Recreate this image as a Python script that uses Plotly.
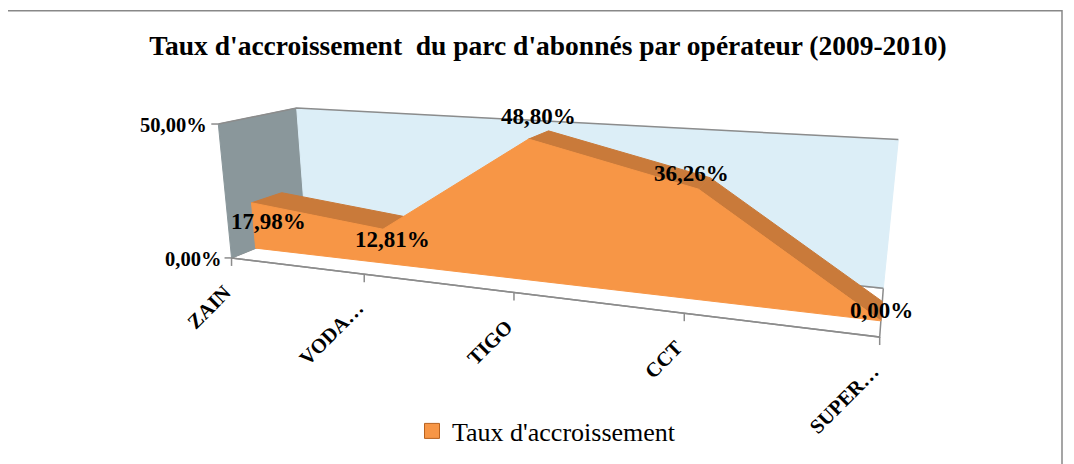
import numpy as np
import plotly.graph_objects as go

categories = ["ZAIN", "VODA…", "TIGO", "CCT", "SUPER…"]
values = [17.98, 12.81, 48.80, 36.26, 0.00]
value_ticks = [0, 50]
value_tick_labels = ["0,00%", "50,00%"]
series_name = "Taux d'accroissement"
chart_title = "Taux d'accroissement  du parc d'abonnés par opérateur (2009-2010)"

W, H = 1074, 464          # window
OX, OY = 8, 8             # page body margin
FW, FH = W - OX, H - OY   # figure size
VMAX = 50.0

# Perspective camera (3x4) mapping (category index, value %, depth 0..1) -> window pixels
CAMERA = np.array([
    [111.954, -0.436476, 111.987, 231.544],
    [0.589039, -2.7757, -1.98113, 257.933],
    [-0.056929, -0.000785653, 0.123619, 1.0],
])
D1, D2 = 0.3, 0.7         # series depth band


def proj(X, V, D):
    h = CAMERA @ np.array([X, V, D, 1.0])
    return h[0] / h[2], h[1] / h[2]


FRONT = "#F79646"
TOP = "#C97A3A"
SIDE = "#8A979B"
BACK = "#DCEEF7"
EDGE = "#8C8C8C"
SERIF = "Liberation Serif"

fig = go.Figure()


def add_poly(pts, fill, line_color=None, lw=1.0):
    xy = [proj(*p) for p in pts]
    xs = [q[0] for q in xy] + [xy[0][0]]
    ys = [q[1] for q in xy] + [xy[0][1]]
    fig.add_trace(go.Scatter(x=xs, y=ys, mode="lines", fill="toself", fillcolor=fill,
                             line=dict(color=line_color or fill, width=lw),
                             hoverinfo="skip", showlegend=False))


def add_line(pts, color=EDGE, lw=1.5):
    xy = [proj(*p) for p in pts]
    fig.add_trace(go.Scatter(x=[q[0] for q in xy], y=[q[1] for q in xy], mode="lines",
                             line=dict(color=color, width=lw), hoverinfo="skip", showlegend=False))


n = len(categories)
XL, XR = 0, n - 1
# floor
add_poly([(XL, 0, 0), (XR, 0, 0), (XR, 0, 1), (XL, 0, 1)], "white", EDGE, 1.5)
# left side wall
add_poly([(XL, 0, 0), (XL, VMAX, 0), (XL, VMAX, 1), (XL, 0, 1)], SIDE, SIDE, 1)
# back wall
add_poly([(XL, 0, 1), (XR, 0, 1), (XR, VMAX, 1), (XL, VMAX, 1)], BACK, BACK, 1)
add_line([(XL, VMAX, 0), (XL, VMAX, 1), (XR, VMAX, 1)])
add_line([(XL, 0, 1), (XR, 0, 1)])

# ribbon top faces (only those facing the camera)
for i in range(n - 1):
    quad = [(i, values[i], D1), (i + 1, values[i + 1], D1),
            (i + 1, values[i + 1], D2), (i, values[i], D2)]
    s = [proj(*p) for p in quad]
    cross = (s[1][0] - s[0][0]) * (s[3][1] - s[0][1]) - (s[1][1] - s[0][1]) * (s[3][0] - s[0][0])
    if cross < 0:
        add_poly(quad, TOP, TOP, 1)
# ribbon front face
front = [(i, values[i], D1) for i in range(n)] + [(XR, 0, D1), (XL, 0, D1)]
add_poly(front, FRONT, FRONT, 1)

# front floor edge + ticks
add_line([(XL, 0, 0), (XR, 0, 0)])
shapes = []
for i in range(n):
    x0, y0 = proj(i, 0, 0)
    shapes.append(dict(type="line", xref="x", yref="y", x0=x0, y0=y0, x1=x0, y1=y0 + 8,
                       line=dict(color=EDGE, width=1.5)))
for vt in value_ticks:
    x0, y0 = proj(XL, vt, 0)
    shapes.append(dict(type="line", xref="x", yref="y", x0=x0 - 7, y0=y0, x1=x0, y1=y0,
                       line=dict(color=EDGE, width=1.5)))
# chart-area border
shapes.append(dict(type="rect", xref="x", yref="y", x0=4, x1=1062, y0=10.7, y1=H + 20,
                   line=dict(color="#888888", width=1.5)))

ann = []
for vt, lab in zip(value_ticks, value_tick_labels):
    x0, y0 = proj(XL, vt, 0)
    ann.append(dict(x=x0 - 9, y=y0 + 1, xref="x", yref="y", text=lab, showarrow=False,
                    xanchor="right", yanchor="middle",
                    font=dict(family=SERIF, size=20.5, color="black", weight="bold")))
for i, c in enumerate(categories):
    x0, y0 = proj(i, 0, 0)
    ann.append(dict(x=x0 + 6, y=y0 + 20, xref="x", yref="y", text=c, showarrow=False,
                    textangle=-45, xanchor="right", yanchor="top",
                    font=dict(family=SERIF, size=20.5, color="black", weight="bold")))
label_offsets = [(2, 24), (-3, 16), (0, -18), (-13, -10), (0, 0)]
for i, v in enumerate(values):
    x0, y0 = proj(i, v, (D1 + D2) / 2)
    dx, dy = label_offsets[i]
    ann.append(dict(x=x0 + dx, y=y0 + dy, xref="x", yref="y",
                    text=f"{v:.2f}".replace(".", ",") + "%", showarrow=False,
                    xanchor="center", yanchor="middle",
                    font=dict(family=SERIF, size=23, color="black", weight="bold")))

# legend entry
fig.add_trace(go.Scatter(x=[None], y=[None], mode="markers", name=series_name,
                         marker=dict(symbol="square", size=15, color=FRONT,
                                     line=dict(color="#B8621F", width=1))))

fig.update_layout(
    width=FW, height=FH, margin=dict(l=0, r=0, t=0, b=0),
    paper_bgcolor="white", plot_bgcolor="white",
    xaxis=dict(range=[OX, OX + FW], visible=False, fixedrange=True),
    yaxis=dict(range=[OY + FH, OY], visible=False, fixedrange=True),
    title=dict(text=chart_title, x=(548 - OX) / FW, xanchor="center",
               y=1 - (47 - OY - 2) / FH, yanchor="middle", yref="container",
               font=dict(family=SERIF, size=27.5, color="black", weight="bold")),
    shapes=shapes, annotations=ann,
    showlegend=True,
    legend=dict(orientation="h", x=(412 - OX) / FW, xanchor="left",
                y=1 - (431 - OY) / FH, yanchor="middle",
                font=dict(family=SERIF, size=26, color="black"), itemwidth=30,
                bgcolor="rgba(0,0,0,0)"),
)
fig.write_html("out.html")
